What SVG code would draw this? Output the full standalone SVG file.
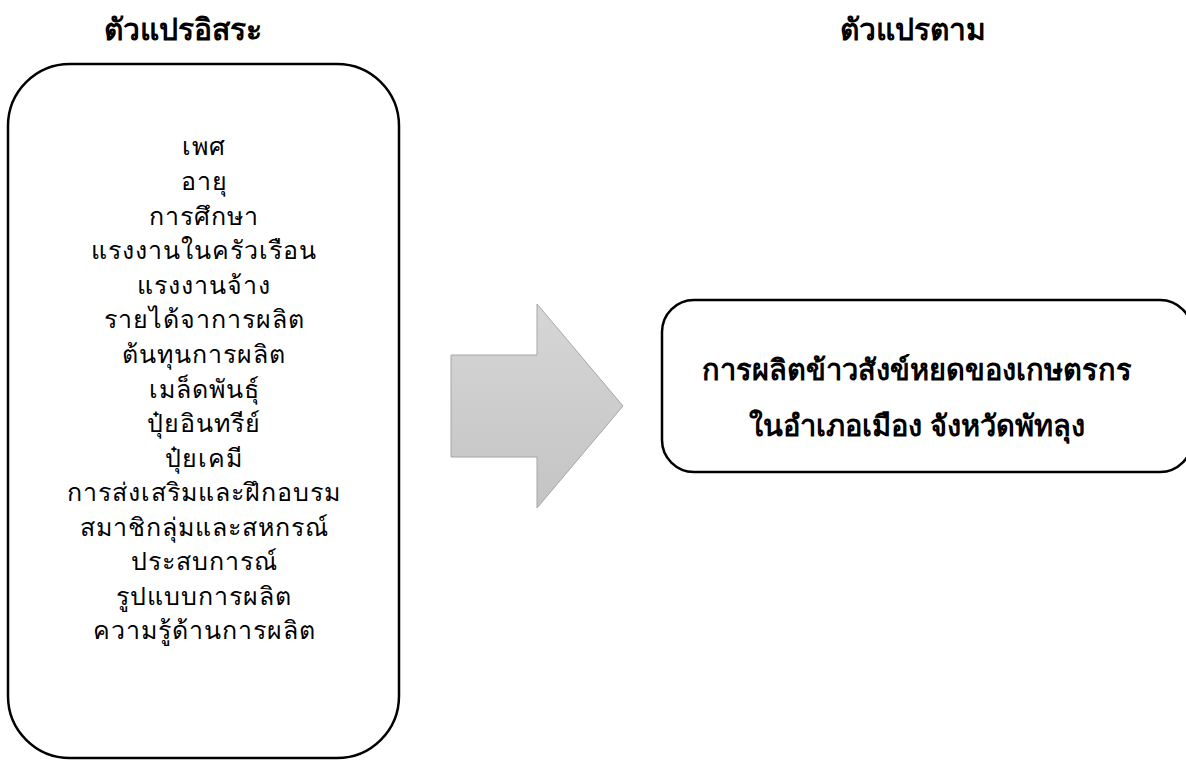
<svg xmlns="http://www.w3.org/2000/svg" width="1186" height="767" viewBox="0 0 1186 767">
<style>
.box{fill:#fff;stroke:#000;stroke-width:2.5}
.t{font-family:"Noto Sans","DejaVu Sans",sans-serif;fill:#000;text-anchor:middle}
.h{font-size:30px;font-weight:bold}
.i{font-size:25px;letter-spacing:1px;font-weight:300}
.b{font-size:29px;font-weight:bold}
</style>
<defs>
<linearGradient id="g" x1="0" y1="0" x2="0" y2="1">
<stop offset="0" stop-color="#d6d6d6"/>
<stop offset="1" stop-color="#c4c4c4"/>
</linearGradient>
</defs>
<rect width="1186" height="767" fill="#fff"/>
<text class="t h" x="183" y="40">ตัวแปรอิสระ</text>
<text class="t h" x="913" y="40">ตัวแปรตาม</text>
<g id="independent">
<rect class="box" x="8" y="64" width="391" height="694" rx="62" ry="62"/>
<g class="t i">
<text x="204" y="155">เพศ</text>
<text x="204" y="190">อายุ</text>
<text x="204" y="225">การศึกษา</text>
<text x="204" y="259">แรงงานในครัวเรือน</text>
<text x="204" y="294">แรงงานจ้าง</text>
<text x="204" y="328">รายได้จาการผลิต</text>
<text x="204" y="363">ต้นทุนการผลิต</text>
<text x="204" y="398">เมล็ดพันธุ์</text>
<text x="204" y="432">ปุ๋ยอินทรีย์</text>
<text x="204" y="467">ปุ๋ยเคมี</text>
<text x="204" y="501">การส่งเสริมและฝึกอบรม</text>
<text x="204" y="536">สมาชิกลุ่มและสหกรณ์</text>
<text x="204" y="570">ประสบการณ์</text>
<text x="204" y="605">รูปแบบการผลิต</text>
<text x="204" y="639">ความรู้ด้านการผลิต</text>
</g>
</g>
<g id="connectors">
<polygon points="451,355 537,355 537,304 623,406 537,508 537,457 451,457" fill="url(#g)" stroke="#a6a6a6" stroke-width="1"/>
</g>
<g id="dependent">
<rect class="box" x="662" y="300" width="530" height="172" rx="32" ry="32"/>
<text class="t b" x="917" y="380">การผลิตข้าวสังข์หยดของเกษตรกร</text>
<text class="t b" x="917" y="436">ในอำเภอเมือง จังหวัดพัทลุง</text>
</g>
</svg>
